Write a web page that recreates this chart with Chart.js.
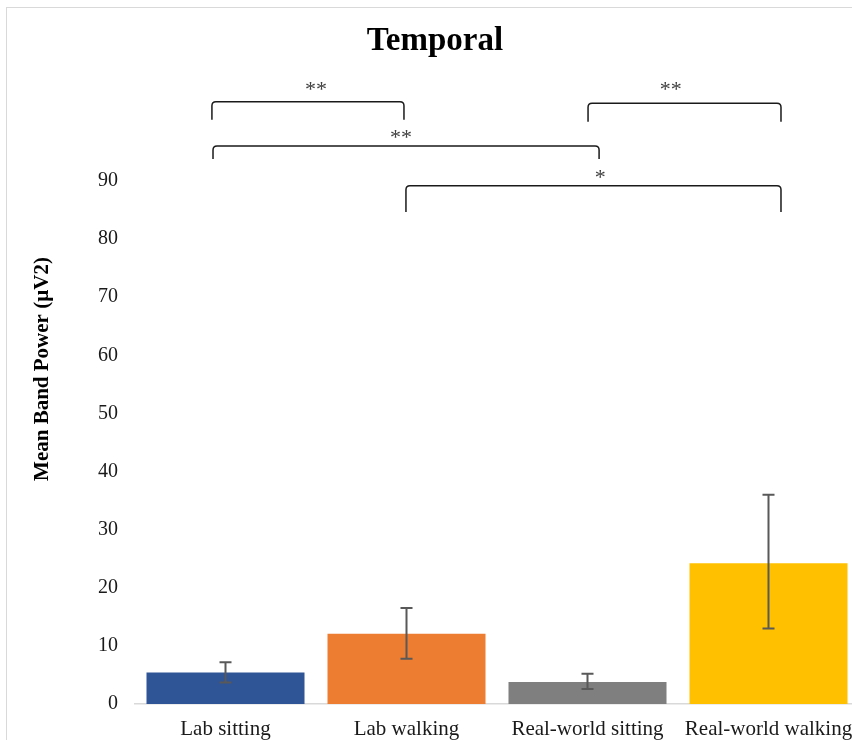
<!DOCTYPE html>
<html>
<head>
<meta charset="utf-8">
<title>Temporal</title>
<script src="https://cdn.jsdelivr.net/npm/chart.js@4.4.1/dist/chart.umd.min.js"></script>
<style>
  html, body { margin: 0; padding: 0; background: #fff; overflow: hidden; }
  #frame { position: absolute; left: 6px; top: 7px; width: 900px; height: 800px; border: 1px solid #d9d9d9; }
  #wrap { position: absolute; left: 0; top: 0; width: 870px; height: 740px; }
</style>
</head>
<body>
<div id="frame"></div>
<div id="wrap"><canvas id="chart" width="870" height="740"></canvas></div>
<script>
// --- data ---
const categories = ['Lab sitting', 'Lab walking', 'Real-world sitting', 'Real-world walking'];
const meanPower = [5.4, 12.1, 3.8, 24.2];
const errLow = [3.7, 7.8, 2.6, 13.0];
const errHigh = [7.2, 16.5, 5.2, 36.0];
const barColors = ['#2F5597', '#ED7D31', '#7F7F7F', '#FFC000'];
const yTicks = [0, 10, 20, 30, 40, 50, 60, 70, 80, 90];

// significance brackets (x in category units, y in µV2 units)
const bracketFrom = [-0.075, 2.003, -0.069, 0.997];
const bracketTo = [0.986, 3.069, 2.064, 3.069];
const bracketTop = [103.65, 103.37, 96.02, 89.19];
const bracketLeg = [100.55, 100.21, 93.79, 84.67];
const starText = ['**', '**', '**', '*'];
const starX = [0.5, 2.46, 0.97, 2.07];
const starY = [104.6, 104.6, 96.4, 89.5];

const serif = "'Liberation Serif', 'Times New Roman', serif";

// error bars drawn over the bars
const errorBars = {
  id: 'errorBars',
  afterDatasetsDraw(chart) {
    const { ctx, scales: { x, y } } = chart;
    ctx.save();
    ctx.strokeStyle = '#595959';
    ctx.lineWidth = 2;
    meanPower.forEach((v, i) => {
      const px = x.getPixelForValue(i);
      const top = y.getPixelForValue(errHigh[i]);
      const bot = y.getPixelForValue(errLow[i]);
      ctx.beginPath();
      ctx.moveTo(px, top); ctx.lineTo(px, bot);
      ctx.moveTo(px - 6, top); ctx.lineTo(px + 6, top);
      ctx.moveTo(px - 6, bot); ctx.lineTo(px + 6, bot);
      ctx.stroke();
    });
    ctx.restore();
  }
};

// brackets + stars above the plot
const brackets = {
  id: 'brackets',
  afterDraw(chart) {
    const { ctx, scales: { x, y } } = chart;
    ctx.save();
    ctx.strokeStyle = '#1a1a1a';
    ctx.lineWidth = 1.5;
    const r = 4;
    bracketFrom.forEach((from, i) => {
      const x1 = x.getPixelForValue(from);
      const x2 = x.getPixelForValue(bracketTo[i]);
      const yt = y.getPixelForValue(bracketTop[i]);
      const yl = y.getPixelForValue(bracketLeg[i]);
      ctx.beginPath();
      ctx.moveTo(x1, yl);
      ctx.lineTo(x1, yt + r);
      ctx.quadraticCurveTo(x1, yt, x1 + r, yt);
      ctx.lineTo(x2 - r, yt);
      ctx.quadraticCurveTo(x2, yt, x2, yt + r);
      ctx.lineTo(x2, yl);
      ctx.stroke();
    });
    ctx.fillStyle = '#404040';
    ctx.font = '22px ' + serif;
    ctx.textAlign = 'center';
    ctx.textBaseline = 'alphabetic';
    starText.forEach((t, i) => {
      ctx.fillText(t, x.getPixelForValue(starX[i]), y.getPixelForValue(starY[i]));
    });
    ctx.restore();
  }
};

// y axis title, centred on the whole plot height like the original
const yTitle = {
  id: 'yTitle',
  afterDraw(chart) {
    const { ctx } = chart;
    ctx.save();
    ctx.translate(43, 369);
    ctx.rotate(-Math.PI / 2);
    ctx.fillStyle = '#000';
    ctx.font = 'bold 21px ' + serif;
    ctx.textAlign = 'center';
    ctx.textBaseline = 'middle';
    ctx.fillText('Mean Band Power (µV2)', 0, 0);
    ctx.restore();
  }
};

new Chart(document.getElementById('chart'), {
  type: 'bar',
  data: {
    labels: categories,
    datasets: [{
      data: meanPower,
      backgroundColor: barColors,
      borderWidth: 0,
      barPercentage: 0.873,
      categoryPercentage: 1.0
    }]
  },
  options: {
    responsive: false,
    animation: false,
    devicePixelRatio: 1,
    layout: { padding: { left: 11, top: 0, right: 11, bottom: 0 } },
    plugins: {
      legend: { display: false },
      tooltip: { enabled: false },
      title: {
        display: true,
        text: 'Temporal',
        color: '#000',
        font: { family: serif, size: 33, weight: 'bold' },
        padding: { top: 22, bottom: 119.4 }
      }
    },
    scales: {
      x: {
        grid: { display: false },
        border: { color: '#d9d9d9', width: 1.5 },
        ticks: {
          color: '#1a1a1a',
          font: { family: serif, size: 21 },
          padding: 5,
          maxRotation: 0,
          autoSkip: false
        },
        afterFit: (s) => { s.height = 36; }
      },
      y: {
        min: 0,
        max: 90,
        grid: { display: false },
        border: { display: false },
        ticks: {
          color: '#1a1a1a',
          font: { family: serif, size: 20 },
          padding: 9
        },
        afterBuildTicks: (s) => { s.ticks = yTicks.map(v => ({ value: v })); },
        afterFit: (s) => { s.width = 124; }
      }
    }
  },
  plugins: [errorBars, brackets, yTitle]
});
</script>
</body>
</html>
